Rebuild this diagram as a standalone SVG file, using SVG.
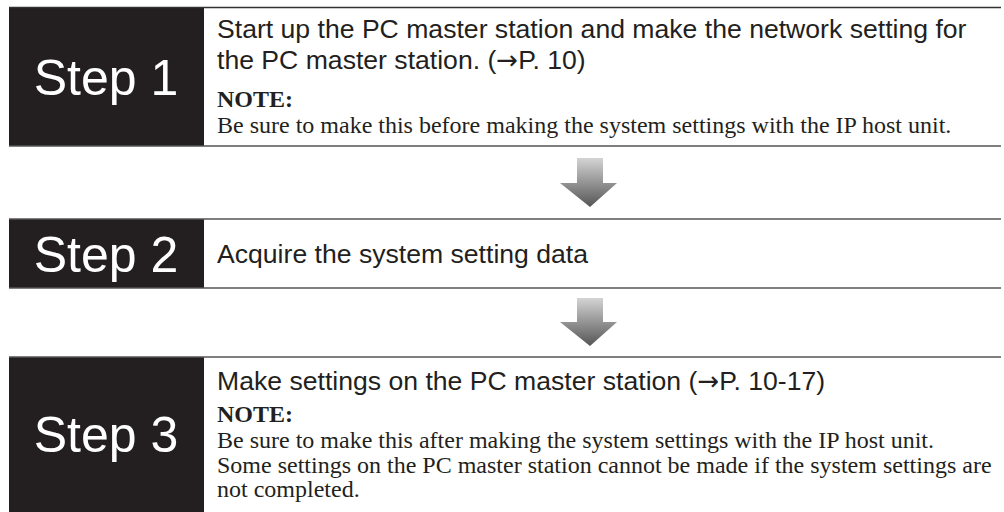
<svg xmlns="http://www.w3.org/2000/svg" width="1004" height="512" viewBox="0 0 1004 512">
<style>
.blk{fill:#231f20}
.step{font-family:"Liberation Sans",Arial,sans-serif;font-size:50px;fill:#ffffff;text-anchor:middle}
.body{font-family:"Liberation Sans",Arial,sans-serif;font-size:26.6px;fill:#231f20}
.ar{font-family:"DejaVu Sans",sans-serif;font-size:26px}
.note{font-family:"Liberation Serif","Times New Roman",serif;font-size:24px;fill:#231f20}
.nb{font-family:"Liberation Serif","Times New Roman",serif;font-size:24px;font-weight:bold;fill:#231f20}
.ln{stroke:#555;stroke-width:1.5}
.lt{stroke:#333;stroke-width:1.5}
</style>
<defs>
<linearGradient id="ag" x1="0" y1="0" x2="0" y2="1">
<stop offset="0" stop-color="#d4d4d4"/>
<stop offset="1" stop-color="#555"/>
</linearGradient>
</defs>
<g id="step1">
<rect class="blk" x="9" y="7" width="195" height="139"/>
<line class="lt" x1="9" y1="7.5" x2="1001" y2="7.5"/>
<line class="ln" x1="9" y1="146" x2="1001" y2="146"/>
<text class="step" x="106" y="95">Step 1</text>
<text class="body" x="217" y="38">Start up the PC master station and make the network setting for</text>
<text class="body" x="217" y="69">the PC master station. (<tspan class="ar">→</tspan>P. 10)</text>
<text class="nb" x="217" y="107">NOTE:</text>
<text class="note" x="217" y="133">Be sure to make this before making the system settings with the IP host unit.</text>
</g>
<g id="step2">
<rect class="blk" x="9" y="219" width="195" height="69"/>
<line class="ln" x1="9" y1="219" x2="1001" y2="219"/>
<line class="ln" x1="9" y1="288" x2="1001" y2="288"/>
<text class="step" x="106" y="272">Step 2</text>
<text class="body" x="217" y="263">Acquire the system setting data</text>
</g>
<g id="step3">
<rect class="blk" x="9" y="357" width="195" height="155"/>
<line class="ln" x1="9" y1="357" x2="1001" y2="357"/>
<text class="step" x="106" y="452">Step 3</text>
<text class="body" x="217" y="390">Make settings on the PC master station (<tspan class="ar">→</tspan>P. 10-17)</text>
<text class="nb" x="217" y="422">NOTE:</text>
<text class="note" x="217" y="448">Be sure to make this after making the system settings with the IP host unit.</text>
<text class="note" x="217" y="473">Some settings on the PC master station cannot be made if the system settings are</text>
<text class="note" x="217" y="497">not completed.</text>
</g>
<g id="connectors">
<polygon fill="url(#ag)" points="577,158 603,158 603,183 617,183 590,207 560,183 577,183"/>
<polygon fill="url(#ag)" points="577,298 603,298 603,322 617,322 590,346 560,322 577,322"/>
</g>
</svg>
